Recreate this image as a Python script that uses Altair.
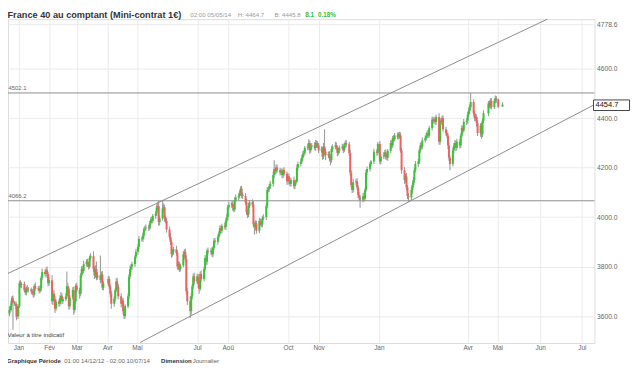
import pandas as pd
import altair as alt

FONT = "Liberation Sans, Arial, sans-serif"

# Daily candles: (close, upper wick, lower wick)
dec12 = [(3625,15,10),(3642,10,8),(3662,12,6),(3672,8,10),(3668,10,12),(3655,15,110),(3650,6,8),(3640,10,12),(3598,12,15),(3641,8,10)]
jan13 = [(3733,10,8),(3726,12,10),(3730,8,14),(3704,10,8),(3695,12,10),(3712,9,12),(3706,14,8),(3708,10,10),(3700,8,12),(3693,10,9),(3688,12,14),
         (3722,8,10),(3710,15,8),(3712,9,10),(3702,12,11),(3712,10,8),(3755,8,12),(3778,14,10),(3770,12,9),(3785,10,15),(3770,15,10),(3733,9,12)]
feb13 = [(3745,12,10),(3660,20,12),(3690,10,15),(3668,14,10),(3630,12,18),(3658,10,9),(3650,8,12),(3672,12,10),(3682,15,8),(3660,10,12),
         (3668,9,10),(3680,12,8),(3720,60,10),(3710,15,12),(3640,10,14),(3675,9,10),(3705,12,8),(3625,15,20),(3660,10,12),(3723,8,10)]
mar13 = [(3705,12,10),(3690,10,20),(3765,8,10),(3790,12,8),(3782,10,12),(3810,14,8),(3820,10,10),(3812,12,14),(3800,8,12),(3835,10,8),
         (3842,12,10),(3790,20,12),(3765,10,15),(3790,15,10),(3755,30,10),(3765,12,8),(3745,80,12),(3768,12,10),(3715,14,10),(3731,10,12)]
apr13 = [(3750,12,10),(3720,10,12),(3690,8,14),(3650,12,20),(3670,10,12),(3705,8,10),(3740,12,8),(3720,15,10),(3680,10,12),(3650,12,15),
         (3662,10,10),(3620,12,14),(3600,10,12),(3640,8,10),(3680,12,8),(3760,10,12),(3790,14,10),(3800,12,12),(3810,10,14),(3840,8,12),(3860,12,10)]
may13 = [(3880,10,12),(3912,12,10),(3910,10,8),(3925,12,10),(3950,8,12),(3955,10,9),(3958,12,10),(3955,10,12),(3975,9,8),(3990,10,10),(3985,12,9),
         (4005,8,10),(4015,10,12),(4040,12,10),(4045,15,12),(3980,20,15),(3995,12,14),(4035,31,10),(4040,15,12),(3995,10,14),(3985,12,10),(3950,14,12)]
jun13 = [(3920,12,10),(3900,15,12),(3850,10,14),(3860,12,10),(3870,10,12),(3855,14,10),(3800,10,12),(3810,12,15),(3790,10,12),(3805,8,10),
         (3850,12,8),(3860,10,12),(3830,12,10),(3700,15,12),(3660,12,15),(3620,20,28),(3680,12,15),(3720,10,12),(3760,12,10),(3740,15,12)]
jul13 = [(3760,12,10),(3730,10,15),(3710,12,20),(3770,10,8),(3750,14,12),(3790,10,10),(3835,12,9),(3820,10,14),(3865,8,12),(3860,12,10),(3865,10,12),
         (3850,14,10),(3875,9,12),(3905,10,8),(3900,12,10),(3920,10,12),(3935,8,10),(3955,12,9),(3945,10,14),(3965,8,10),(3960,12,10),(3985,10,12),(4000,14,10)]
aug13 = [(4040,10,12),(4050,12,10),(4055,8,12),(4040,10,14),(4030,12,10),(4070,10,8),(4080,12,10),(4085,10,12),(4100,8,10),(4115,10,12),(4090,12,14),
         (4085,10,12),(4060,12,10),(4020,15,12),(4010,10,14),(4045,12,10),(4060,10,8),(4050,12,10),(3970,15,12),(3960,10,30),(3975,12,10),(3945,10,12)]
sep13 = [(3985,12,10),(3975,10,12),(3970,14,10),(3995,10,12),(4000,12,8),(4045,10,12),(4110,12,10),(4115,8,10),(4125,10,12),(4135,12,10),(4170,15,12),
         (4195,35,10),(4185,10,12),(4200,14,10),(4190,12,10),(4180,10,12),(4185,12,10),(4170,10,14),(4190,8,12),(4175,12,10),(4145,10,15)]
oct13 = [(4165,12,10),(4145,10,14),(4135,12,10),(4150,10,12),(4125,14,10),(4140,10,12),(4145,8,10),(4200,12,8),(4215,10,12),(4225,12,10),(4240,10,8),
         (4255,12,10),(4260,10,12),(4280,8,10),(4285,12,10),(4300,15,12),(4270,10,14),(4285,12,10),(4290,10,12),(4280,14,10),(4300,12,12),(4295,10,15),(4290,12,10)]
nov13 = [(4270,10,12),(4275,12,10),(4245,10,14),(4285,15,10),(4265,70,12),(4250,12,20),(4255,10,12),(4240,12,15),(4230,10,20),(4275,12,10),(4285,10,12),
         (4290,15,10),(4280,12,10),(4260,10,14),(4270,12,10),(4280,10,12),(4285,12,10),(4270,10,12),(4290,12,8),(4300,10,10),(4295,12,12)]
dec13 = [(4260,10,12),(4180,12,15),(4130,10,14),(4110,12,12),(4140,15,10),(4145,10,12),(4120,12,10),(4090,10,14),(4080,12,12),(4070,10,32),
         (4085,14,10),(4075,12,12),(4110,10,10),(4180,12,8),(4195,10,12),(4215,8,10),(4225,6,8),(4265,12,10),(4260,10,12),(4296,8,10)]
jan14 = [(4225,12,10),(4245,10,12),(4250,12,10),(4262,10,8),(4245,12,12),(4240,10,10),(4268,8,12),(4300,12,10),(4290,10,12),(4320,8,10),(4315,12,10),
         (4330,10,8),(4325,12,10),(4335,8,10),(4330,10,12),(4270,12,10),(4190,10,15),(4150,12,15),(4165,10,12),(4120,14,12),(4085,10,12),(4080,12,18)]
feb14 = [(4110,12,15),(4130,10,14),(4150,12,10),(4190,10,12),(4215,12,10),(4225,10,12),(4270,8,10),(4290,12,10),(4285,10,12),(4310,12,10),
         (4320,10,8),(4330,12,10),(4340,10,12),(4330,12,10),(4360,10,8),(4395,12,10),(4390,10,12),(4395,8,10),(4385,12,10),(4405,10,12)]
mar14 = [(4305,15,12),(4390,10,12),(4385,12,10),(4400,10,12),(4355,12,10),(4340,10,12),(4330,12,10),(4290,10,14),(4240,12,12),(4215,10,25),
         (4270,12,10),(4290,10,12),(4300,12,10),(4280,10,14),(4305,12,10),(4290,10,12),(4330,8,10),(4360,12,10),(4350,10,12),(4385,12,8),(4390,10,12)]
apr14 = [(4415,10,12),(4430,12,10),(4445,10,12),(4465,37,10),(4420,12,10),(4400,10,12),(4405,12,10),(4380,10,14),(4340,12,12),(4370,10,15),
         (4335,12,18),(4390,10,12),(4420,12,10),(4460,10,12),(4450,12,10),(4470,10,12),(4445,12,10),(4470,10,8),(4480,12,10),(4475,10,12)]
may14 = [(4447,5,7),(4455,10,1)]

first_open = 3610
holidays = ["2012-12-25", "2012-12-26", "2013-01-01", "2013-03-29", "2013-04-01", "2013-05-01",
            "2013-12-25", "2013-12-26", "2014-01-01", "2014-04-18", "2014-04-21", "2014-05-01"]
months = [("2012-12", dec12), ("2013-01", jan13), ("2013-02", feb13), ("2013-03", mar13), ("2013-04", apr13),
          ("2013-05", may13), ("2013-06", jun13), ("2013-07", jul13), ("2013-08", aug13), ("2013-09", sep13),
          ("2013-10", oct13), ("2013-11", nov13), ("2013-12", dec13), ("2014-01", jan14), ("2014-02", feb14),
          ("2014-03", mar14), ("2014-04", apr14), ("2014-05", may14)]

EPOCH = pd.Timestamp("2013-01-01")


def day_of(s):
    # days since 2013-01-01 (may be fractional)
    return (pd.Timestamp(s).tz_localize(None) - EPOCH) / pd.Timedelta(days=1)


rows = []
prev = first_open
for ym, vals in months:
    start = pd.Timestamp(ym + "-01")
    end = start + pd.offsets.MonthEnd(0)
    days = [d for d in pd.bdate_range(start, end) if d.strftime("%Y-%m-%d") not in holidays]
    if ym == "2012-12":
        days = [d for d in days if d.day >= 14]
    for d, (c, up, dn) in zip(days, vals):
        o = prev
        rows.append(dict(day=day_of(d), open=o, close=c,
                         high=max(o, c) + up, low=min(o, c) - dn,
                         dir="up" if c >= o else "down"))
        prev = c
candles = pd.DataFrame(rows)

# Drawn lines
levels = [4502.1, 4066.2]
level_labels = ["4502.1", "4066.2"]
trend_name = ["haut", "haut", "bas", "bas"]
trend_date = ["2012-12-11T00:00:00", "2014-06-06T05:00:00", "2013-05-04T02:00:00", "2014-07-09T14:00:00"]
trend_value = [3772.5, 4800.4, 3493.0, 4453.9]
last_price = 4454.7

y_ticks = [3600, 3800, 4000, 4200, 4400, 4600, 4778.6]
month_ticks = ["2013-01-01", "2013-02-01", "2013-03-01", "2013-04-01", "2013-05-01", "2013-07-01",
               "2013-08-01", "2013-10-01", "2013-11-01", "2014-01-01", "2014-04-01", "2014-05-01",
               "2014-06-01", "2014-07-01"]
month_names = ["Jan", "Fév", "Mar", "Avr", "Mai", "Jun", "Jul", "Aoû", "Sep", "Oct", "Nov", "Déc"]
period = ["2012-12-11", "2013-01-01", "2014-05-02", "2014-07-10"]

W, H = 594, 328
xs = alt.Scale(type="linear", nice=False, zero=False,
               domain=[day_of(p) for p in period],
               range=[0, 10.6, 496.6, W])
ys = alt.Scale(domain=[3491, 4800.4], nice=False, zero=False)

label_expr = ("[" + ",".join("'%s'" % m for m in month_names) +
              "][utcmonth(utc(2013, 0, 1 + datum.value))]")

x_axis = alt.Axis(values=[day_of(m) for m in month_ticks], labelExpr=label_expr, ticks=False, domain=False,
                  labelFontSize=6.5, labelColor="#666666", labelPadding=2, gridColor="#ebebeb",
                  title=None, labelFlush=False, labelOverlap=False, labelFont=FONT)
y_axis = alt.Axis(orient="right", values=y_ticks, format=".1f", ticks=False, domain=False,
                  labelFontSize=6.8, labelColor="#666666", labelPadding=2, gridColor="#ebebeb",
                  title=None, labelFont=FONT)


def X(field):
    return alt.X(field, scale=xs, axis=x_axis)


def Y(field):
    return alt.Y(field, scale=ys, axis=y_axis)


wicks = alt.Chart(candles).mark_rule(color="#9c9c9c", strokeWidth=1.1).encode(
    x=X("day:Q"), y=Y("low:Q"), y2="high:Q",
)
bodies = alt.Chart(candles).mark_rule(strokeWidth=2).encode(
    x=X("day:Q"), y=Y("open:Q"), y2="close:Q",
    color=alt.Color("dir:N", scale=alt.Scale(domain=["up", "down"], range=["#33c633", "#f06060"]), legend=None),
)

lev_df = pd.DataFrame({"value": levels, "label": level_labels})
level_lines = alt.Chart(lev_df).mark_rule(color="#8c8c8c", strokeWidth=1).encode(y=Y("value:Q"))
level_text = alt.Chart(lev_df).mark_text(align="left", baseline="alphabetic", dy=-2.5, font=FONT,
                                         fontSize=6, color="#666666").encode(
    y=Y("value:Q"), x=alt.value(0.5), text="label:N")

trend_df = pd.DataFrame({"name": trend_name, "day": [day_of(t) for t in trend_date], "value": trend_value})
trends = alt.Chart(trend_df).mark_line(color="#8c8c8c", strokeWidth=1).encode(
    x=X("day:Q"), y=Y("value:Q"), detail="name:N",
)

price_df = pd.DataFrame({"p": [last_price], "t": ["4454.7"]})
price_box = alt.Chart(price_df).mark_rect(fill="white", stroke="#444444", strokeWidth=1).encode(
    x=alt.value(593), x2=alt.value(629.5), y=alt.value(81.8), y2=alt.value(92.5))
price_text = alt.Chart(price_df).mark_text(align="left", baseline="middle", font=FONT, fontSize=7.6,
                                           color="#111111").encode(
    x=alt.value(595), y=Y("p:Q"), text="t:N")


def label(txt, x, y, size, color, weight="normal"):
    return alt.Chart(pd.DataFrame({"t": [txt]})).mark_text(
        align="left", baseline="alphabetic", font=FONT, fontSize=size, fontWeight=weight, color=color
    ).encode(text="t:N", x=alt.value(x), y=alt.value(y))


texts = [
    label("France 40 au comptant (Mini-contrat 1€)", -0.5, -1.5, 9.3, "#333333", "bold"),
    label("02:00 05/05/14", 184.7, -2.5, 6.2, "#999999"),
    label("H: 4464.7", 232.7, -2.5, 6.2, "#999999"),
    label("B: 4445.8", 270, -2.5, 6.2, "#999999"),
    label("8.1", 301, -2.5, 6.4, "#33bb33", "bold"),
    label("0.18%", 314, -2.5, 6.4, "#33bb33", "bold"),
    label("Valeur à titre indicatif", -0.5, 322, 6.2, "#444444"),
    label("Graphique Période", -1, 348.5, 6.1, "#333333", "bold"),
    label("01:00 14/12/12 - 02:00 10/07/14", 57, 348.5, 6.1, "#666666"),
    label("Dimension", 155, 348.5, 6.1, "#333333", "bold"),
    label("Journalier", 187, 348.5, 6.1, "#666666"),
]

chart = alt.layer(
    wicks, level_lines, trends, bodies, level_text, price_box, price_text, *texts
).properties(
    width=W, height=H,
    autosize=alt.AutoSizeParams(type="none"),
    padding={"left": 0, "top": 9, "right": 38, "bottom": 26},
    background="white",
).configure_view(stroke="#dcdcdc", strokeWidth=1)

chart.save("out.html", embed_options={"renderer": "svg", "actions": False})
